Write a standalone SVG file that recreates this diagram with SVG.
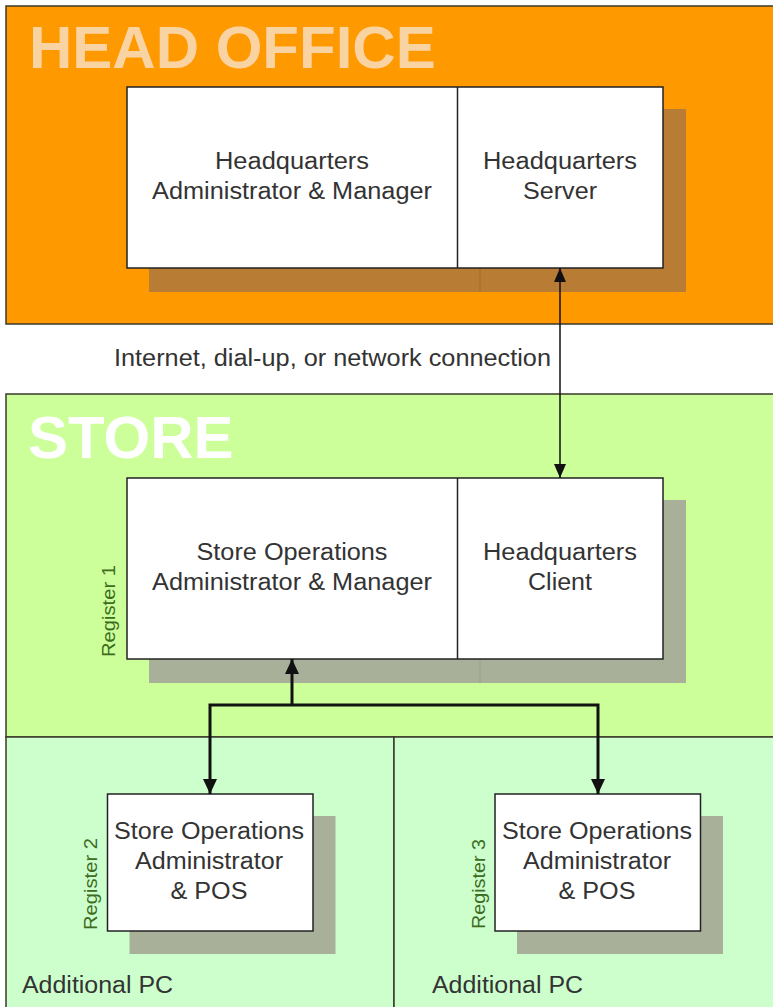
<svg xmlns="http://www.w3.org/2000/svg" width="773" height="1007" viewBox="0 0 773 1007">
<style>
  .zone { stroke: #3a3a2a; stroke-width: 1.5; }
  .box { fill: #ffffff; stroke: #222222; stroke-width: 1.5; }
  .div { stroke: #222222; stroke-width: 1.5; }
  .t { font-family: "Liberation Sans", Arial, sans-serif; font-size: 23px; fill: #333333; text-anchor: middle; }
  .tl { font-family: "Liberation Sans", Arial, sans-serif; font-size: 23px; fill: #333333; }
  .title { font-family: "Liberation Sans", Arial, sans-serif; font-size: 60px; font-weight: bold; }
  .reg { font-family: "Liberation Sans", Arial, sans-serif; font-size: 18px; fill: #3d6b1f; }
  .shb { fill: #b87c34; }
  .shg { fill: #a8b099; }
  .c1 { fill: none; stroke: #111111; stroke-width: 1.5; }
  .c2 { fill: none; stroke: #111111; stroke-width: 3; }
</style>
<defs>
  <marker id="ah1" viewBox="0 0 14 12" refX="14" refY="6" markerWidth="14" markerHeight="12" markerUnits="userSpaceOnUse" orient="auto-start-reverse">
    <path d="M0,0 L14,6 L0,12 z" fill="#111111"/>
  </marker>
  <marker id="ah2" viewBox="0 0 15 14" refX="15" refY="7" markerWidth="15" markerHeight="14" markerUnits="userSpaceOnUse" orient="auto-start-reverse">
    <path d="M0,0 L15,7 L0,14 z" fill="#111111"/>
  </marker>
</defs>

<rect x="0" y="0" width="773" height="1007" fill="#ffffff"/>

<g id="head-office">
  <rect class="zone" x="6" y="6" width="772" height="318" fill="#ff9900"/>
  <text class="title" x="29" y="68" fill="#fad3a2">HEAD OFFICE</text>
</g>

<g id="store">
  <rect class="zone" x="6" y="394" width="772" height="343" fill="#ccff99"/>
  <text class="title" x="28" y="458" fill="#ffffff">STORE</text>
</g>

<g id="additional-pc-1">
  <rect class="zone" x="6" y="737" width="388" height="280" fill="#ccffcc"/>
  <text class="tl" x="22" y="993" textLength="151" lengthAdjust="spacingAndGlyphs">Additional PC</text>
</g>

<g id="additional-pc-2">
  <rect class="zone" x="394" y="737" width="384" height="280" fill="#ccffcc"/>
  <text class="tl" x="432" y="993" textLength="151" lengthAdjust="spacingAndGlyphs">Additional PC</text>
</g>

<g id="hq-node">
  <rect class="shb" x="149" y="109" width="537" height="183"/>
  <line x1="480" y1="268" x2="480" y2="292" stroke="#a36c2a" stroke-width="1"/>
  <rect class="box" x="127" y="87" width="536" height="181"/>
  <line class="div" x1="457.5" y1="87" x2="457.5" y2="268"/>
  <text class="t" x="292" y="169" textLength="154" lengthAdjust="spacingAndGlyphs">Headquarters</text>
  <text class="t" x="292" y="199" textLength="280" lengthAdjust="spacingAndGlyphs">Administrator &amp; Manager</text>
  <text class="t" x="560" y="169" textLength="154" lengthAdjust="spacingAndGlyphs">Headquarters</text>
  <text class="t" x="560" y="199" textLength="74" lengthAdjust="spacingAndGlyphs">Server</text>
</g>

<g id="register-1">
  <rect class="shg" x="149" y="500" width="537" height="183"/>
  <line x1="480" y1="659" x2="480" y2="683" stroke="#98a08a" stroke-width="1"/>
  <rect class="box" x="127" y="478" width="536" height="181"/>
  <line class="div" x1="457.5" y1="478" x2="457.5" y2="659"/>
  <text class="t" x="292" y="560" textLength="191" lengthAdjust="spacingAndGlyphs">Store Operations</text>
  <text class="t" x="292" y="590" textLength="280" lengthAdjust="spacingAndGlyphs">Administrator &amp; Manager</text>
  <text class="t" x="560" y="560" textLength="154" lengthAdjust="spacingAndGlyphs">Headquarters</text>
  <text class="t" x="560" y="590" textLength="64" lengthAdjust="spacingAndGlyphs">Client</text>
  <text class="reg" transform="translate(114.5,657) rotate(-90)" textLength="92" lengthAdjust="spacingAndGlyphs">Register 1</text>
</g>

<g id="register-2">
  <rect class="shg" x="129.5" y="816" width="206" height="138"/>
  <rect class="box" x="107.5" y="794" width="205.5" height="137"/>
  <text class="t" x="209" y="839" textLength="190" lengthAdjust="spacingAndGlyphs">Store Operations</text>
  <text class="t" x="209" y="869" textLength="148" lengthAdjust="spacingAndGlyphs">Administrator</text>
  <text class="t" x="209" y="899" textLength="77" lengthAdjust="spacingAndGlyphs">&amp; POS</text>
  <text class="reg" transform="translate(96.5,930) rotate(-90)" textLength="92" lengthAdjust="spacingAndGlyphs">Register 2</text>
</g>

<g id="register-3">
  <rect class="shg" x="517" y="816" width="206" height="138"/>
  <rect class="box" x="495" y="794" width="205.5" height="137"/>
  <text class="t" x="597" y="839" textLength="190" lengthAdjust="spacingAndGlyphs">Store Operations</text>
  <text class="t" x="597" y="869" textLength="148" lengthAdjust="spacingAndGlyphs">Administrator</text>
  <text class="t" x="597" y="899" textLength="77" lengthAdjust="spacingAndGlyphs">&amp; POS</text>
  <text class="reg" transform="translate(484.5,929) rotate(-90)" textLength="90" lengthAdjust="spacingAndGlyphs">Register 3</text>
</g>

<g id="connectors">
  <path class="c1" d="M560,268 L560,478" marker-start="url(#ah1)" marker-end="url(#ah1)"/>
  <text class="tl" x="114" y="366" textLength="437" lengthAdjust="spacingAndGlyphs">Internet, dial-up, or network connection</text>
  <path class="c2" d="M292,705 L292,659" marker-end="url(#ah2)"/>
  <path class="c2" d="M210,794 L210,705 L598,705 L598,794" marker-start="url(#ah2)" marker-end="url(#ah2)"/>
</g>
</svg>
